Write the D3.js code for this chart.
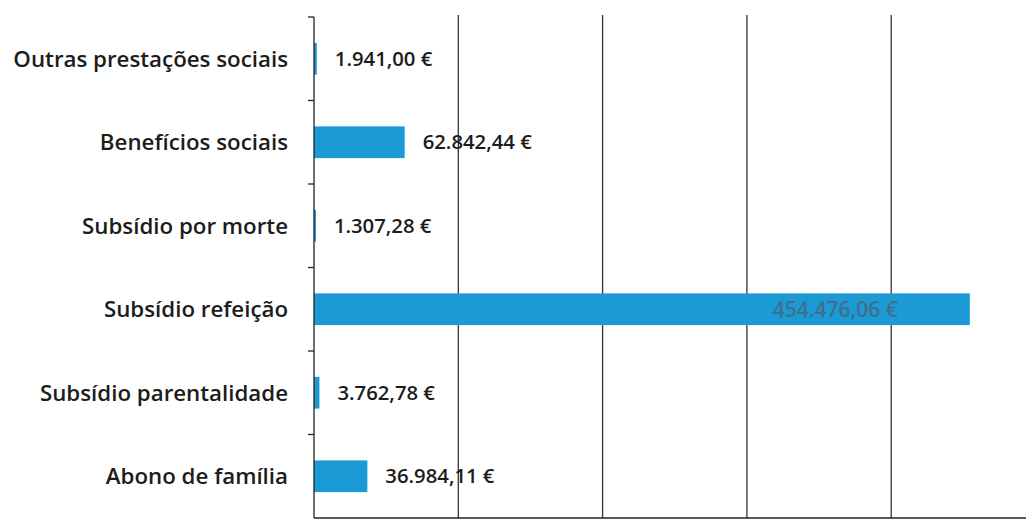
<!DOCTYPE html>
<html>
<head>
<meta charset="utf-8">
<script src="https://cdn.jsdelivr.net/npm/d3@7"></script>
<style>
  body { margin: 0; background: #fff; }
  svg { display: block; }
</style>
</head>
<body>
<div class="chart"></div>
<script>
// categories from top to bottom, values in euros
const categories = ["Outras prestações sociais", "Benefícios sociais", "Subsídio por morte",
  "Subsídio refeição", "Subsídio parentalidade", "Abono de família"];
const values = [1941.00, 62842.44, 1307.28, 454476.06, 3762.78, 36984.11];
const valueLabels = ["1.941,00 €", "62.842,44 €", "1.307,28 €", "454.476,06 €", "3.762,78 €", "36.984,11 €"];
const gridTicks = [0, 100000, 200000, 300000, 400000, 500000];

var width = 1026, height = 519;
var plotLeft = 314, plotTop = 17, plotBottom = 518;

var svg = d3.select(".chart")
    .append("svg")
    .attr("width", width)
    .attr("height", height);

var x = d3.scaleLinear()
    .domain([0, 500000])
    .range([plotLeft, plotLeft + 5 * 144.3]);

var y = d3.scaleBand()
    .domain(categories)
    .range([plotTop, plotBottom])
    .paddingInner(0.62)
    .paddingOuter(0.31);

// vertical gridlines
svg.append("g")
    .selectAll("line")
    .data(gridTicks.slice(1))
    .enter()
    .append("line")
    .attr("x1", d => x(d))
    .attr("x2", d => x(d))
    .attr("y1", plotTop - 2)
    .attr("y2", plotBottom)
    .attr("stroke", "#333")
    .attr("stroke-width", 1.3);

// bars
svg.append("g")
    .selectAll("rect")
    .data(values)
    .enter()
    .append("rect")
    .attr("x", x(0))
    .attr("y", (d, i) => y(categories[i]))
    .attr("width", d => Math.max(x(d) - x(0), 2))
    .attr("height", y.bandwidth())
    .attr("fill", "#1b9ad6");

// y axis with ticks between categories
var yAxis = svg.append("g")
    .attr("transform", "translate(" + plotLeft + ",0)");

yAxis.append("line")
    .attr("x1", 0).attr("x2", 0)
    .attr("y1", plotTop).attr("y2", plotBottom)
    .attr("stroke", "#222")
    .attr("stroke-width", 1.3);

var rowH = (plotBottom - plotTop) / categories.length;
yAxis.selectAll(".tick")
    .data(d3.range(categories.length))
    .enter()
    .append("line")
    .attr("x1", -6).attr("x2", 0)
    .attr("y1", i => plotTop + i * rowH)
    .attr("y2", i => plotTop + i * rowH)
    .attr("stroke", "#222")
    .attr("stroke-width", 1.3);

yAxis.selectAll(".cat")
    .data(categories)
    .enter()
    .append("text")
    .attr("x", -26)
    .attr("y", d => y(d) + y.bandwidth() / 2)
    .attr("dy", "0.35em")
    .attr("text-anchor", "end")
    .attr("font-family", "Open Sans, sans-serif")
    .attr("font-size", 22.3)
    .attr("font-weight", 600)
    .attr("fill", "#1c1c1c")
    .text(d => d);

// x axis baseline
svg.append("line")
    .attr("x1", plotLeft).attr("x2", width)
    .attr("y1", plotBottom).attr("y2", plotBottom)
    .attr("stroke", "#222")
    .attr("stroke-width", 1.3);

// value labels: outside for short bars, inside for the long one
svg.append("g")
    .selectAll("text")
    .data(values)
    .enter()
    .append("text")
    .attr("x", d => d > 300000 ? x(d) - 72 : x(d) + 18)
    .attr("y", (d, i) => y(categories[i]) + y.bandwidth() / 2)
    .attr("dy", "0.35em")
    .attr("text-anchor", d => d > 300000 ? "end" : "start")
    .attr("font-family", "Open Sans, sans-serif")
    .attr("font-size", d => d > 300000 ? 21 : 20.3)
    .attr("font-weight", 600)
    .attr("fill", d => d > 300000 ? "#3f6f8c" : "#1c1c1c")
    .text((d, i) => valueLabels[i]);
</script>
</body>
</html>
